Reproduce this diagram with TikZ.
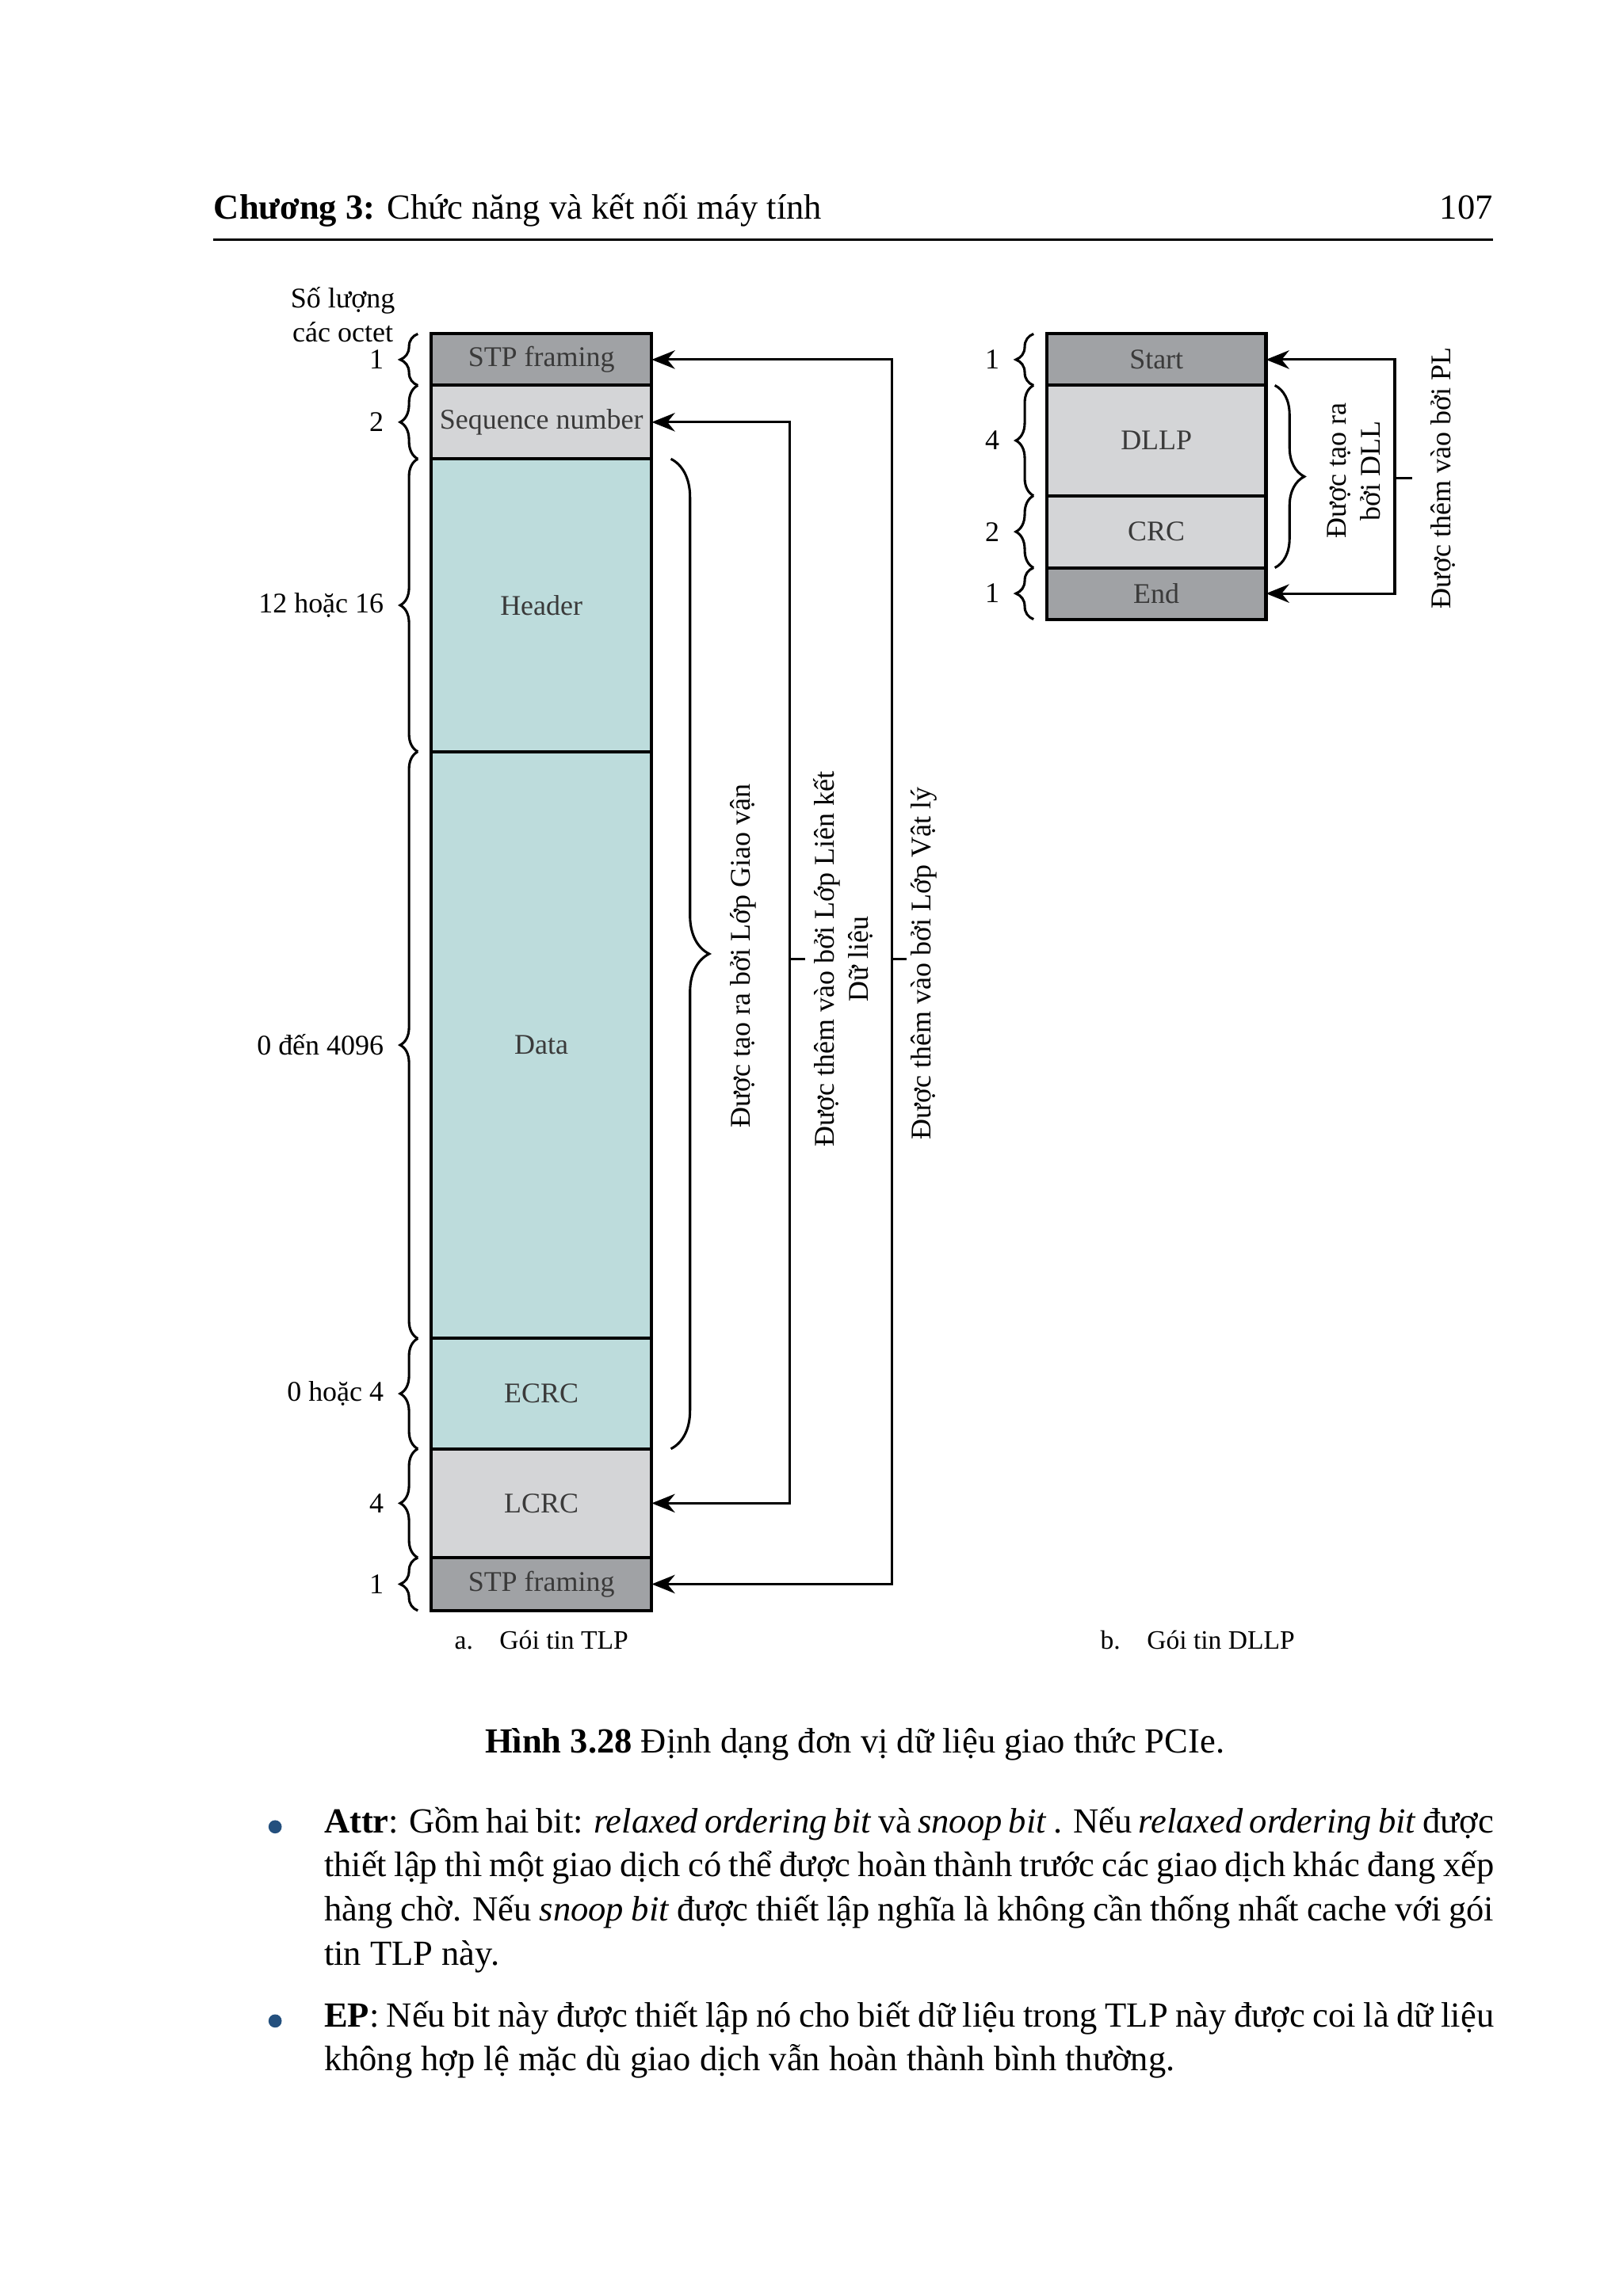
\documentclass[tikz,border=0pt]{standalone}
\usepackage{fontspec}
\setmainfont{Liberation Serif}
\usepackage{xcolor}
\usepackage{tikz}
\usetikzlibrary{arrows.meta,positioning,decorations.pathreplacing}

\definecolor{framegray}{HTML}{A0A2A5}
\definecolor{seqgray}{HTML}{D4D5D7}
\definecolor{tlpteal}{HTML}{BDDCDC}
\definecolor{fieldtext}{HTML}{3A3A3A}
\definecolor{bulletblue}{HTML}{24507E}

\newcommand{\pxu}{0.019039cm}
\newcommand{\figfont}{\fontsize{10.5}{12.5}\selectfont}
\newcommand{\pagefont}{\fontsize{13}{16.25}\selectfont}

\tikzset{
  field/.style={draw, line width=1.2pt, outer sep=0pt, inner sep=0pt, minimum width=150*\pxu, text=fieldtext, font=\figfont},
  lbl/.style={font=\figfont, inner sep=1pt},
  conn/.style={line width=0.9pt},
  arr/.style={conn, -{Stealth[length=3mm,width=2.4mm]}},
  brc/.style={decorate, decoration={brace, amplitude=#1}, line width=0.9pt},
  body/.style={font=\pagefont, inner sep=0pt, text width=15.14cm, align=justify, anchor=base west},
  dot/.style={circle, fill=bulletblue, inner sep=0pt, minimum size=9*\pxu},
}

\begin{document}
\begin{tikzpicture}[x=\pxu, y=-\pxu]
\fill[white] (0,0) rectangle (1103,1561);

% page head
\node[font=\pagefont, inner sep=0pt, anchor=base west] (chap) at (145,149) {\textbf{Chương 3:} Chức năng và kết nối máy tính};
\node[font=\pagefont, inner sep=0pt, anchor=base east] (pageno) at (1015,149) {107};
\draw[line width=0.9pt] (145,163) -- (1015,163);

% a. TLP
\node[field, fill=framegray, minimum height=35*\pxu] (stpa) at (368,244.5) {STP framing};
\node[field, fill=seqgray, minimum height=50*\pxu, below=0pt of stpa] (seq) {Sequence number};
\node[field, fill=tlpteal, minimum height=199*\pxu, below=0pt of seq] (hdr) {Header};
\node[field, fill=tlpteal, minimum height=399*\pxu, below=0pt of hdr] (data) {Data};
\node[field, fill=tlpteal, minimum height=75*\pxu, below=0pt of data] (ecrc) {ECRC};
\node[field, fill=seqgray, minimum height=74*\pxu, below=0pt of ecrc] (lcrc) {LCRC};
\node[field, fill=framegray, minimum height=36*\pxu, below=0pt of lcrc] (stpb) {STP framing};

\node[lbl, align=center] (octets) at (233,214) {Số lượng\\các octet};
\foreach \f/\n in {stpa/1, seq/2, hdr/12 hoặc 16, data/0 đến 4096, ecrc/0 hoặc 4, lcrc/4, stpb/1} {
  \draw[brc=12*\pxu] ([xshift=-9*\pxu]\f.south west) -- ([xshift=-9*\pxu]\f.north west);
  \node[lbl, anchor=east] at ([xshift=-30*\pxu]\f.west) {\n};
}

\draw[brc=26*\pxu] ([xshift=13*\pxu]hdr.north east) -- ([xshift=13*\pxu]ecrc.south east);
\node[lbl, rotate=90] (tl) at (505,650) {Được tạo ra bởi Lớp Giao vận};

\coordinate (dll) at (537,652);
\draw[arr] (dll) |- (seq.east);
\draw[arr] (dll) |- (lcrc.east);
\draw[conn] (dll) -- ++(10,0);
\node[lbl, rotate=90, align=center] (dlltxt) at (573,652) {Được thêm vào bởi Lớp Liên kết\\Dữ liệu};

\coordinate (phy) at (606,652);
\draw[arr] (phy) |- (stpa.east);
\draw[arr] (phy) |- (stpb.east);
\draw[conn] (phy) -- ++(10,0);
\node[lbl, rotate=90] (phytxt) at (628,655) {Được thêm vào bởi Lớp Vật lý};

% b. DLLP
\node[field, fill=framegray, minimum width=149*\pxu, minimum height=35*\pxu] (start) at (786,244.5) {Start};
\node[field, fill=seqgray, minimum width=149*\pxu, minimum height=75*\pxu, below=0pt of start] (dllp) {DLLP};
\node[field, fill=seqgray, minimum width=149*\pxu, minimum height=49*\pxu, below=0pt of dllp] (crc) {CRC};
\node[field, fill=framegray, minimum width=149*\pxu, minimum height=35*\pxu, below=0pt of crc] (end) {End};

\foreach \f/\n in {start/1, dllp/4, crc/2, end/1} {
  \draw[brc=12*\pxu] ([xshift=-9*\pxu]\f.south west) -- ([xshift=-9*\pxu]\f.north west);
  \node[lbl, anchor=east] at ([xshift=-30*\pxu]\f.west) {\n};
}

\draw[brc=20*\pxu] ([xshift=6*\pxu]dllp.north east) -- ([xshift=6*\pxu]crc.south east);
\node[lbl, rotate=90, align=center] (dlltxtb) at (920,320) {Được tạo ra\\bởi DLL};

\coordinate (phyb) at (948,325);
\draw[arr] (phyb) |- (start.east);
\draw[arr] (phyb) |- (end.east);
\draw[conn] (phyb) -- ++(12,0);
\node[lbl, rotate=90] (phytxtb) at (981,325) {Được thêm vào bởi PL};

% sub captions
\node[lbl, font=\fontsize{9.8}{12}\selectfont] (capa) at (368,1115) {a.\quad Gói tin TLP};
\node[lbl, font=\fontsize{9.8}{12}\selectfont] (capb) at (814,1115) {b.\quad Gói tin DLLP};

\node[font=\pagefont, inner sep=0pt, anchor=base] (cap) at (581,1192) {\textbf{Hình 3.28} Định dạng đơn vị dữ liệu giao thức PCIe.};

% bullets
\node[dot] (dota) at (187,1242) {};
\node[body] (attr) at (220,1246) {\hyphenpenalty=10000 \textbf{Attr}: Gồm hai bit: \textit{relaxed ordering bit} và \textit{snoop bit} . Nếu \textit{relaxed ordering bit} được\linebreak thiết lập thì một giao dịch có thể được hoàn thành trước các giao dịch khác đang xếp\linebreak hàng chờ. Nếu \textit{snoop bit} được thiết lập nghĩa là không cần thống nhất cache với gói\linebreak tin TLP này.};
\node[dot] (dotb) at (187,1374) {};
\node[body] (ep) at (220,1378) {\hyphenpenalty=10000 \textbf{EP}: Nếu bit này được thiết lập nó cho biết dữ liệu trong TLP này được coi là dữ liệu\linebreak không hợp lệ mặc dù giao dịch vẫn hoàn thành bình thường.};
\end{tikzpicture}
\end{document}
